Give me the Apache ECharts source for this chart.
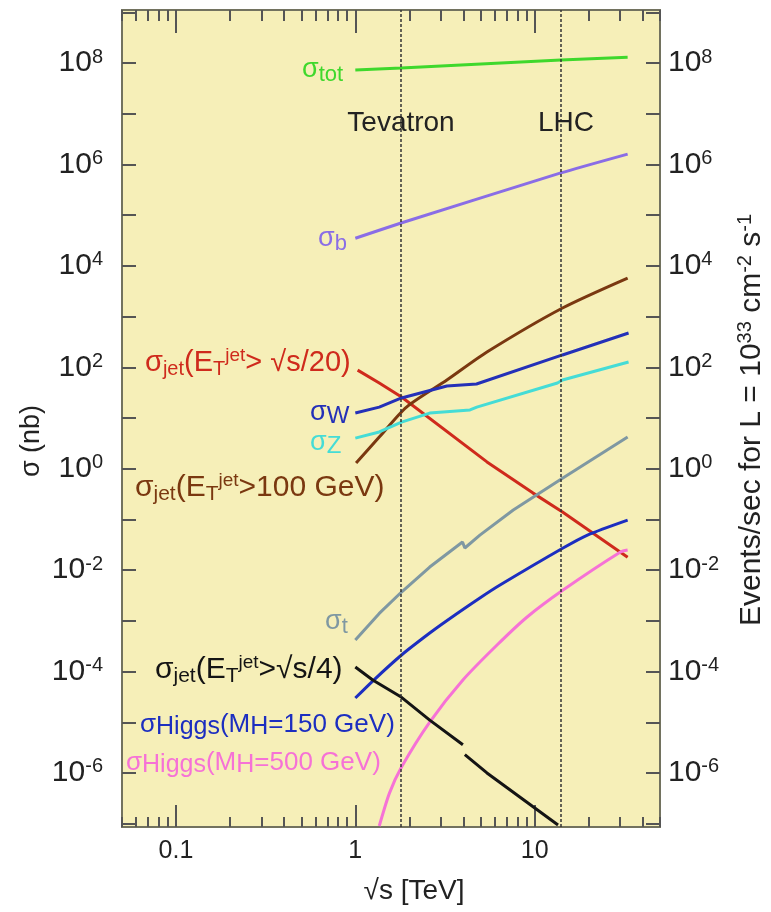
<!DOCTYPE html>
<html><head><meta charset="utf-8">
<script src="https://cdn.jsdelivr.net/npm/echarts@6/dist/echarts.min.js"></script>
<style>html,body{margin:0;padding:0;background:#fff}#c{width:771px;height:912px}</style>
</head><body><div id="c"></div>
<script>
const FONT = '"Liberation Sans", Arial, Helvetica, sans-serif';

// ---- axis ranges: sqrt(s) in TeV, sigma in nb ----
const xRange = [0.05, 50];
const yRange = [8.6e-8, 1.11e9];
const xMajorTicks = [0.1, 1, 10];
const xMajorLabels = ['0.1', '1', '10'];
const xMinorTicks = [0.05, 0.06, 0.07, 0.08, 0.09, 0.2, 0.3, 0.4, 0.5, 0.6, 0.7, 0.8, 0.9,
                     2, 3, 4, 5, 6, 7, 8, 9, 20, 30, 40, 50];
const yTickExponents = [-7, -6, -5, -4, -3, -2, -1, 0, 1, 2, 3, 4, 5, 6, 7, 8, 9];
const yLabelExponents = [-6, -4, -2, 0, 2, 4, 6, 8];

const colliderNames = ['Tevatron', 'LHC'];
const colliderEnergies = [1.8, 14];

// ---- cross sections [sqrt(s) TeV, sigma nb] ----
const sigmaTot = [[1.0, 7.3e7], [1.8, 8.0e7], [14, 1.15e8], [33, 1.3e8]];
const sigmaB = [[1.0, 3.5e4], [1.8, 7.0e4], [14, 6.8e5], [33, 1.6e6]];
const sigmaJetS20 = [[1.03, 88], [1.36, 49], [1.81, 25.9], [5.42, 1.36], [9.8, 0.33], [14.3, 0.14], [33, 0.018]];
const sigmaJet100 = [[1.01, 1.29], [1.36, 4.2], [1.93, 16.4], [3.24, 56], [5.42, 200], [14.3, 1476], [33, 5750]];
const sigmaW = [[1.0, 12.5], [1.36, 16.4], [1.81, 24.8], [3.24, 42.7], [4.74, 46.8], [14.3, 175], [33.4, 474]];
const sigmaZ = [[1.0, 4.0], [1.36, 5.3], [1.81, 8.3], [2.6, 12.5], [4.36, 14.4], [4.76, 16.4], [13.4, 49], [14.3, 56], [33.4, 127]];
const sigmaTop = [[1.0, 4.2e-4], [1.36, 1.4e-3], [1.81, 3.7e-3], [2.6, 1.15e-2], [3.96, 3.58e-2], [4.08, 2.73e-2], [4.95, 4.9e-2], [7.6, 0.153], [14.3, 0.65], [33, 4.2]];
const sigmaHiggs150 = [[1.0, 3.0e-5], [1.25, 6.5e-5], [1.81, 2.12e-4], [2.6, 5.75e-4], [3.28, 1.04e-3], [4.95, 2.82e-3], [6.41, 5.08e-3], [14.4, 0.0273], [19.7, 0.0492], [33, 0.097]];
const sigmaHiggs500 = [[1.36, 9.0e-8], [1.55, 4.0e-7], [1.81, 1.31e-6], [2.6, 1.01e-5], [3.98, 6.8e-5], [6.17, 3.33e-4], [9.08, 1.19e-3], [14.4, 4.05e-3], [30.1, 0.0228], [33, 0.025]];
const sigmaJetS4 = [[1.0, 1.23e-4], [1.25, 6.8e-5], [1.81, 3.1e-5], [2.6, 1.1e-5], [3.98, 3.6e-6], [4.03, '-'], [4.08, 2.3e-6], [5.42, 1.0e-6], [13.5, 9.4e-8]];

const seriesDefs = [
  { name: 'σtot', data: sigmaTot, color: '#3fd82c', smooth: false },
  { name: 'σb', data: sigmaB, color: '#8a6de6', smooth: 0.2 },
  { name: 'σjet(ET>√s/20)', data: sigmaJetS20, color: '#cf2a1c', smooth: false },
  { name: 'σjet(ET>100 GeV)', data: sigmaJet100, color: '#7a3810', smooth: 0.25 },
  { name: 'σW', data: sigmaW, color: '#2430b8', smooth: false },
  { name: 'σZ', data: sigmaZ, color: '#45dcd6', smooth: false },
  { name: 'σt', data: sigmaTop, color: '#7f98a2', smooth: false },
  { name: 'σHiggs(150)', data: sigmaHiggs150, color: '#1c2ec0', smooth: 0.25 },
  { name: 'σHiggs(500)', data: sigmaHiggs500, color: '#f672d6', smooth: 0.25 },
  { name: 'σjet(ET>√s/4)', data: sigmaJetS4, color: '#141414', smooth: false }
];

const TICK_COLOR = '#555';
const TEXT_COLOR = '#222';

function xTickAxis(pos, ticks, len, withLabels) {
  return {
    type: 'value', position: pos,
    min: Math.log10(xRange[0]), max: Math.log10(xRange[1]),
    axisLine: { show: false, onZero: false },
    splitLine: { show: false },
    axisTick: { show: true, inside: true, length: len, customValues: ticks.map(v => Math.log10(v)),
                lineStyle: { color: TICK_COLOR, width: 2 } },
    axisLabel: withLabels ? {
      show: true, margin: 12, customValues: xMajorTicks.map(v => Math.log10(v)),
      fontFamily: FONT, fontSize: 25, color: TEXT_COLOR,
      formatter: function (v) {
        const i = xMajorTicks.findIndex(t => Math.abs(Math.log10(t) - v) < 1e-6);
        return i >= 0 ? xMajorLabels[i] : '';
      }
    } : { show: false }
  };
}
function yTickAxis(pos, margin) {
  return {
    type: 'value', position: pos,
    min: Math.log10(yRange[0]), max: Math.log10(yRange[1]),
    axisLine: { show: false, onZero: false },
    splitLine: { show: false },
    axisTick: { show: true, inside: true, length: 14, customValues: yTickExponents,
                lineStyle: { color: TICK_COLOR, width: 2 } },
    axisLabel: {
      show: true, margin: margin, customValues: yLabelExponents,
      formatter: v => '{b|10}{s|' + Math.round(v) + '}',
      rich: {
        b: { fontFamily: FONT, fontSize: 30, lineHeight: 32, color: TEXT_COLOR },
        s: { fontFamily: FONT, fontSize: 20, lineHeight: 16, verticalAlign: 'top', color: TEXT_COLOR }
      }
    }
  };
}

function richFor(color, base, sub, sup) {
  return {
    m: { fontFamily: FONT, fontSize: base, lineHeight: base + 4, fill: color },
    sub: { fontFamily: FONT, fontSize: sub, lineHeight: sub, verticalAlign: 'bottom', fill: color },
    sup: { fontFamily: FONT, fontSize: sup, lineHeight: sup, verticalAlign: 'top', fill: color }
  };
}
function label(x, y, text, color, base, sub, sup) {
  return {
    type: 'text', x: x, y: y, z: 100, silent: true,
    style: { text: text, fill: color, font: base + 'px ' + FONT, align: 'left', verticalAlign: 'middle',
             textAlign: 'left', textVerticalAlign: 'middle', rich: richFor(color, base, sub, sup) }
  };
}
function plainText(x, y, text, size, rotation) {
  return {
    type: 'text', x: x, y: y, z: 100, silent: true, rotation: rotation || 0,
    style: { text: text, fill: TEXT_COLOR, font: size + 'px ' + FONT, align: 'center', verticalAlign: 'middle',
             textAlign: 'center', textVerticalAlign: 'middle' }
  };
}

const graphics = [
  label(302, 70, '{m|σ}{sub|tot}', '#3fd82c', 27, 22, 18),
  label(318, 239, '{m|σ}{sub|b}', '#8a6de6', 27, 22, 18),
  label(145, 363, '{m|σ}{sub|jet}{m|(E}{sub|T}{sup|jet}{m|> √s/20)}', '#cf2a1c', 29, 20, 19),
  label(310, 413, '{m|σ}{sub|W}', '#2430b8', 27, 24, 18),
  label(310, 443, '{m|σ}{sub|Z}', '#45dcd6', 27, 24, 18),
  label(135, 488, '{m|σ}{sub|jet}{m|(E}{sub|T}{sup|jet}{m|>100 GeV)}', '#7a3810', 30, 21, 19),
  label(325, 622, '{m|σ}{sub|t}', '#7f98a2', 27, 22, 18),
  label(155, 670, '{m|σ}{sub|jet}{m|(E}{sub|T}{sup|jet}{m|>√s/4)}', '#141414', 30, 21, 19),
  label(140, 725, '{m|σ}{sub|Higgs}{m|(M}{sub|H}{m|=150 GeV)}', '#1c2ec0', 26, 25, 18),
  label(126, 763, '{m|σ}{sub|Higgs}{m|(M}{sub|H}{m|=500 GeV)}', '#f672d6', 26, 25, 18),
  plainText(401, 123, colliderNames[0], 28),
  plainText(566, 123, colliderNames[1], 28),
  plainText(414, 891, '√s [TeV]', 28),
  plainText(32, 441, 'σ (nb)', 27, Math.PI / 2),
  {
    type: 'text', x: 752, y: 420, rotation: Math.PI / 2, z: 100, silent: true,
    style: { text: '{m|Events/sec for L = 10}{sup|33}{m| cm}{sup|-2}{m| s}{sup|-1}', fill: TEXT_COLOR,
             font: '30px ' + FONT, align: 'center', verticalAlign: 'middle',
             textAlign: 'center', textVerticalAlign: 'middle', rich: richFor(TEXT_COLOR, 30, 20, 20) }
  }
];

const series = seriesDefs.map((s, i) => {
  const o = {
    name: s.name, type: 'line', xAxisIndex: 0, yAxisIndex: 0,
    data: s.data, showSymbol: false, symbol: 'none', connectNulls: false,
    smooth: s.smooth,
    lineStyle: { color: s.color, width: 3 }, itemStyle: { color: s.color },
    silent: true, z: 3
  };
  if (i === 0) {
    o.markLine = {
      silent: true, symbol: ['none', 'none'], label: { show: false },
      lineStyle: { color: '#333', width: 1.5, type: [3, 2] },
      data: colliderEnergies.map(e => ({ xAxis: e }))
    };
  }
  return o;
});

const option = {
  animation: false,
  backgroundColor: '#ffffff',
  grid: { left: 122, right: 111, top: 10, bottom: 85, show: true, backgroundColor: '#f6efb8',
          borderColor: '#72725f', borderWidth: 2, containLabel: false },
  xAxis: [
    { type: 'log', min: xRange[0], max: xRange[1], show: false },
    xTickAxis('bottom', xMajorTicks, 22, true),
    xTickAxis('bottom', xMinorTicks, 10, false),
    xTickAxis('top', xMajorTicks, 23, false),
    xTickAxis('top', xMinorTicks, 11, false)
  ],
  yAxis: [
    { type: 'log', min: yRange[0], max: yRange[1], show: false },
    yTickAxis('left', 19),
    yTickAxis('right', 8)
  ],
  series: series,
  graphic: graphics
};

const chart = echarts.init(document.getElementById('c'));
chart.setOption(option);
</script>
</body></html>
